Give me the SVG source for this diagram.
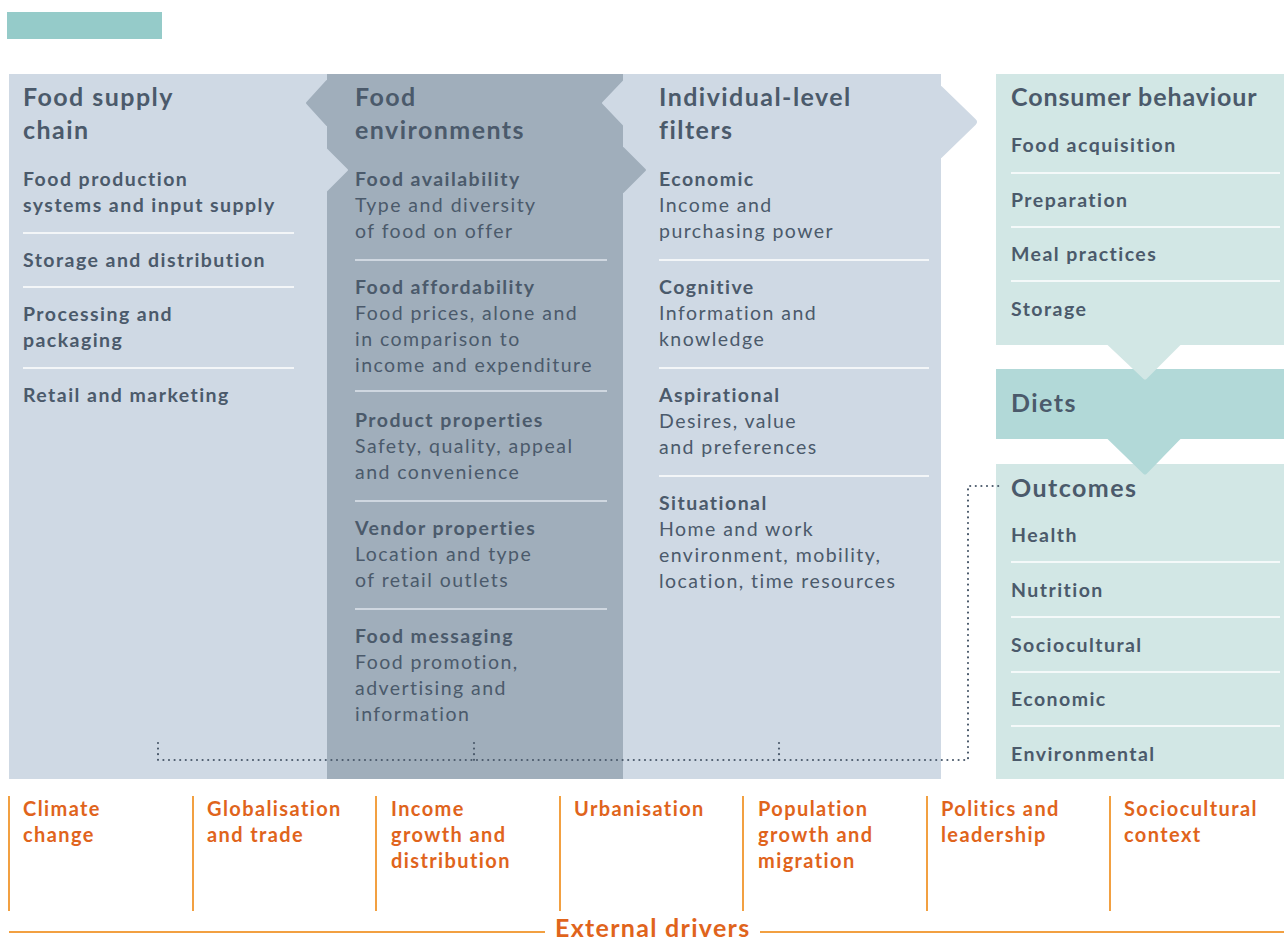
<svg xmlns="http://www.w3.org/2000/svg" width="1284" height="941" viewBox="0 0 1284 941">
<style>
text{font-family:Lato,"Open Sans","Liberation Sans",sans-serif;fill:#4b5a6b;letter-spacing:1.45px}
.h{font-size:25px;font-weight:700}
.b{font-size:19.5px;font-weight:700}
.r{font-size:19.5px;font-weight:400}
.d{font-size:20px;font-weight:700;fill:#e0641c;letter-spacing:1.4px}
.sep{stroke:#ffffff;stroke-width:1.5}
.sepd{stroke:#dfe5ec;stroke-width:1.5}
.ol{stroke:#f2a041;stroke-width:2}
.light{fill:#cfd9e4}
.dark{fill:#a0aebb}
</style>
<rect x="7" y="12" width="155" height="27" fill="#95cbc9"/>

<g id="panels">
<rect class="light" x="9" y="74" width="932" height="705"/>
<path class="light" d="M941,87 L975,120 Q977,122 975,124 L941,157 Z" stroke="#cfd9e4" stroke-width="2" stroke-linejoin="round"/>
<path class="dark" d="M327,74 H623 V779 H327 Z"/>
<path class="dark" d="M327,81 L307,103 L327,125 Z" stroke="#a0aebb" stroke-width="2" stroke-linejoin="round"/>
<path class="dark" d="M623,148 L645,170 L623,192 Z" stroke="#a0aebb" stroke-width="2" stroke-linejoin="round"/>
<path class="light" d="M326,149 L347,170 L326,191 Z" stroke="#cfd9e4" stroke-width="2" stroke-linejoin="round"/>
<path class="light" d="M624,81 L603,103 L624,125 Z" stroke="#cfd9e4" stroke-width="2" stroke-linejoin="round"/>
</g>

<g id="food-supply-chain">
<text class="h" x="23" y="106">Food supply</text>
<text class="h" x="23" y="139">chain</text>
<text class="b" x="23" y="186">Food production</text>
<text class="b" x="23" y="212">systems and input supply</text>
<line class="sep" x1="23" y1="233" x2="294" y2="233"/>
<text class="b" x="23" y="267">Storage and distribution</text>
<line class="sep" x1="23" y1="287" x2="294" y2="287"/>
<text class="b" x="23" y="321">Processing and</text>
<text class="b" x="23" y="347">packaging</text>
<line class="sep" x1="23" y1="368" x2="294" y2="368"/>
<text class="b" x="23" y="402">Retail and marketing</text>
</g>

<g id="food-environments">
<text class="h" x="355" y="106">Food</text>
<text class="h" x="355" y="139">environments</text>
<text class="b" x="355" y="186">Food availability</text>
<text class="r" x="355" y="212">Type and diversity</text>
<text class="r" x="355" y="238">of food on offer</text>
<line class="sepd" x1="355" y1="260" x2="607" y2="260"/>
<text class="b" x="355" y="294">Food affordability</text>
<text class="r" x="355" y="320">Food prices, alone and</text>
<text class="r" x="355" y="346">in comparison to</text>
<text class="r" x="355" y="372">income and expenditure</text>
<line class="sepd" x1="355" y1="391" x2="607" y2="391"/>
<text class="b" x="355" y="427">Product properties</text>
<text class="r" x="355" y="453">Safety, quality, appeal</text>
<text class="r" x="355" y="479">and convenience</text>
<line class="sepd" x1="355" y1="501" x2="607" y2="501"/>
<text class="b" x="355" y="535">Vendor properties</text>
<text class="r" x="355" y="561">Location and type</text>
<text class="r" x="355" y="587">of retail outlets</text>
<line class="sepd" x1="355" y1="609" x2="607" y2="609"/>
<text class="b" x="355" y="643">Food messaging</text>
<text class="r" x="355" y="669">Food promotion,</text>
<text class="r" x="355" y="695">advertising and</text>
<text class="r" x="355" y="721">information</text>
</g>

<g id="individual-filters">
<text class="h" x="659" y="106">Individual-level</text>
<text class="h" x="659" y="139">filters</text>
<text class="b" x="659" y="186">Economic</text>
<text class="r" x="659" y="212">Income and</text>
<text class="r" x="659" y="238">purchasing power</text>
<line class="sep" x1="659" y1="260" x2="929" y2="260"/>
<text class="b" x="659" y="294">Cognitive</text>
<text class="r" x="659" y="320">Information and</text>
<text class="r" x="659" y="346">knowledge</text>
<line class="sep" x1="659" y1="368" x2="929" y2="368"/>
<text class="b" x="659" y="402">Aspirational</text>
<text class="r" x="659" y="428">Desires, value</text>
<text class="r" x="659" y="454">and preferences</text>
<line class="sep" x1="659" y1="476" x2="929" y2="476"/>
<text class="b" x="659" y="510">Situational</text>
<text class="r" x="659" y="536">Home and work</text>
<text class="r" x="659" y="562">environment, mobility,</text>
<text class="r" x="659" y="588">location, time resources</text>
</g>

<g id="outcomes">
<rect x="996" y="464" width="288" height="315" fill="#d2e7e5"/>
<text class="h" x="1011" y="497">Outcomes</text>
<text class="b" x="1011" y="542">Health</text>
<line class="sep" x1="1011" y1="562" x2="1280" y2="562"/>
<text class="b" x="1011" y="597">Nutrition</text>
<line class="sep" x1="1011" y1="617" x2="1280" y2="617"/>
<text class="b" x="1011" y="652">Sociocultural</text>
<line class="sep" x1="1011" y1="672" x2="1280" y2="672"/>
<text class="b" x="1011" y="706">Economic</text>
<line class="sep" x1="1011" y1="726" x2="1280" y2="726"/>
<text class="b" x="1011" y="761">Environmental</text>
</g>

<g id="diets">
<rect x="996" y="369" width="288" height="70" fill="#b2d9d8"/>
<path d="M1108,438 H1180 L1146,473 Q1145,474 1144,473 Z" fill="#b2d9d8" stroke="#b2d9d8" stroke-width="2" stroke-linejoin="round"/>
<text class="h" x="1011" y="412">Diets</text>
</g>

<g id="consumer-behaviour">
<rect x="996" y="74" width="288" height="271" fill="#d2e7e5"/>
<path d="M1108,344 H1180 L1146,378 Q1145,379 1144,378 Z" fill="#d2e7e5" stroke="#d2e7e5" stroke-width="2" stroke-linejoin="round"/>
<text class="h" x="1011" y="106" style="letter-spacing:0.9px">Consumer behaviour</text>
<text class="b" x="1011" y="152">Food acquisition</text>
<line class="sep" x1="1011" y1="173" x2="1280" y2="173"/>
<text class="b" x="1011" y="207">Preparation</text>
<line class="sep" x1="1011" y1="227" x2="1280" y2="227"/>
<text class="b" x="1011" y="261">Meal practices</text>
<line class="sep" x1="1011" y1="281" x2="1280" y2="281"/>
<text class="b" x="1011" y="316">Storage</text>
</g>

<g id="connectors" fill="none" stroke="#4b5a6b" stroke-width="2.2" stroke-linecap="round" stroke-dasharray="0 5.6">
<path d="M158,743 V760 H968 V486 H1003"/>
<path d="M474,743 V760"/>
<path d="M779,743 V760"/>
</g>

<g id="external-drivers">
<line class="ol" x1="9" y1="796" x2="9" y2="911"/>
<line class="ol" x1="193" y1="796" x2="193" y2="911"/>
<line class="ol" x1="376" y1="796" x2="376" y2="911"/>
<line class="ol" x1="560" y1="796" x2="560" y2="911"/>
<line class="ol" x1="743" y1="796" x2="743" y2="911"/>
<line class="ol" x1="927" y1="796" x2="927" y2="911"/>
<line class="ol" x1="1110" y1="796" x2="1110" y2="911"/>
<text class="d" x="23" y="816">Climate</text>
<text class="d" x="23" y="842">change</text>
<text class="d" x="207" y="816">Globalisation</text>
<text class="d" x="207" y="842">and trade</text>
<text class="d" x="391" y="816">Income</text>
<text class="d" x="391" y="842">growth and</text>
<text class="d" x="391" y="868">distribution</text>
<text class="d" x="574" y="816">Urbanisation</text>
<text class="d" x="758" y="816">Population</text>
<text class="d" x="758" y="842">growth and</text>
<text class="d" x="758" y="868">migration</text>
<text class="d" x="941" y="816">Politics and</text>
<text class="d" x="941" y="842">leadership</text>
<text class="d" x="1124" y="816">Sociocultural</text>
<text class="d" x="1124" y="842">context</text>
<line class="ol" x1="9" y1="932" x2="545" y2="932"/>
<line class="ol" x1="760" y1="932" x2="1284" y2="932"/>
<text class="d" x="555" y="937" style="font-size:25px;letter-spacing:1.3px">External drivers</text>
</g>
</svg>
